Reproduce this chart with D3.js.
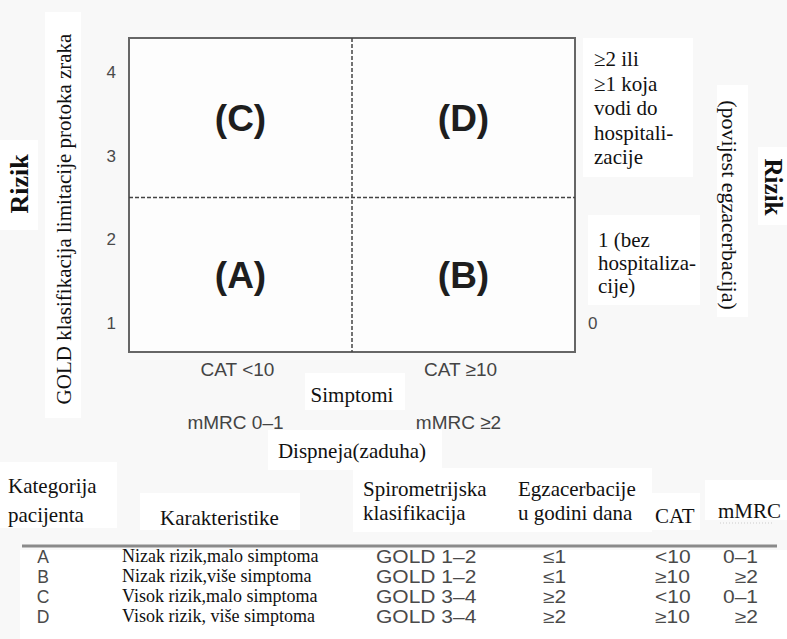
<!DOCTYPE html>
<html><head><meta charset="utf-8">
<script src="https://cdn.jsdelivr.net/npm/d3@7"></script>
<style>
html,body{margin:0;padding:0;background:#f8f8f8;}
svg{display:block;}
</style></head>
<body>
<svg id="c" width="787" height="639"></svg>
<script>
// ---------- data ----------
const riskTicks = [1, 2, 3, 4];
const riskSplit = 2.5;
const rightTickValues = [1];
const rightTickLabels = ["0"];
const symptomCats = ["low", "high"];
const catLabels = ["CAT <10", "CAT \u226510"];
const mmrcLabels = ["mMRC 0\u20131", "mMRC \u22652"];
const quadLabels = ["(A)", "(B)", "(C)", "(D)"];
const quadSym = ["low", "high", "low", "high"];
const quadRisk = ["low", "low", "high", "high"];
const highRiskText = ["\u22652 ili", "\u22651 koja", "vodi do", "hospitali-", "zacije"];
const lowRiskText = ["1 (bez", "hospitaliza-", "cije)"];
const leftAxisTitle = "GOLD klasifikacija limitacije protoka zraka";
const rightAxisTitle = "(povijest egzacerbacija)";
const riskTitle = "Rizik";
const symptomTitle = "Simptomi";
const dyspneaTitle = "Dispneja(zaduha)";

const tableCategories = ["A", "B", "C", "D"];
const tableCharacteristics = ["Nizak rizik,malo simptoma", "Nizak rizik,više simptoma", "Visok rizik,malo simptoma", "Visok rizik, više simptoma"];
const tableSpiro = ["GOLD 1\u20132", "GOLD 1\u20132", "GOLD 3\u20134", "GOLD 3\u20134"];
const tableExac = ["\u22641", "\u22641", "\u22652", "\u22652"];
const tableCAT = ["<10", "\u226510", "<10", "\u226510"];
const tableMMRC = ["0\u20131", "\u22652", "0\u20131", "\u22652"];

// ---------- drawing ----------
const svg = d3.select("#c");
const serif = "'Liberation Serif','Times New Roman',serif";
const sans = "'Liberation Sans',Arial,Helvetica,sans-serif";

// white paste patches
const patches = [
  [0,140,38,90],[45,12,36,406],
  [583,38,110,139],[588,215,112,90],[717,85,31,232],[758,147,29,78],
  [305,373,100,37],[268,430,174,40],
  [0,462,117,66],[140,493,160,37],[353,468,299,64],[645,493,55,37],[705,480,82,40],
  [20,550,767,89]
];
svg.selectAll("rect.patch").data(patches).join("rect").attr("class","patch")
  .attr("x",d=>d[0]).attr("y",d=>d[1]).attr("width",d=>d[2]).attr("height",d=>d[3])
  .attr("fill","#fff");

const x = d3.scaleBand().domain(symptomCats).range([129, 575]);
const y = d3.scaleLinear().domain([0.65, 4.41]).range([352, 38]);
const riskY = {low: [y(0.65), y(riskSplit)], high: [y(riskSplit), y(4.41)]};

const g = svg.append("g");
// plot box
g.append("rect").attr("x", x.range()[0]).attr("y", y(4.41))
  .attr("width", x.range()[1]-x.range()[0]).attr("height", y(0.65)-y(4.41))
  .attr("fill", "#fdfdfd").attr("stroke", "#666").attr("stroke-width", 2);
// dividers
g.append("line").attr("x1", x("high")).attr("x2", x("high"))
  .attr("y1", y(4.41)).attr("y2", y(0.65))
  .attr("stroke", "#444").attr("stroke-width", 1.5).attr("stroke-dasharray", "4,2");
g.append("line").attr("x1", x.range()[0]).attr("x2", x.range()[1])
  .attr("y1", y(riskSplit)).attr("y2", y(riskSplit))
  .attr("stroke", "#444").attr("stroke-width", 1.5).attr("stroke-dasharray", "4,2");

// left axis ticks
const ax = g.append("g").attr("transform", `translate(${x.range()[0]},0)`)
  .call(d3.axisLeft(y).tickValues(riskTicks).tickFormat(d3.format("d")).tickSize(0).tickPadding(13));
ax.select(".domain").remove();
ax.selectAll("text").attr("font-family", sans).attr("font-size", 17).attr("fill", "#4a4a4a");
// right axis tick
const axr = g.append("g").attr("transform", `translate(${x.range()[1]},0)`)
  .call(d3.axisRight(y).tickValues(rightTickValues).tickFormat((d,i)=>rightTickLabels[i]).tickSize(0).tickPadding(13));
axr.select(".domain").remove();
axr.selectAll("text").attr("font-family", sans).attr("font-size", 17).attr("fill", "#4a4a4a");

// quadrant labels
g.selectAll("text.q").data(quadLabels).join("text").attr("class","q")
  .attr("x", (d,i)=>x(quadSym[i]) + x.bandwidth()/2)
  .attr("y", (d,i)=>(riskY[quadRisk[i]][0]+riskY[quadRisk[i]][1])/2 + 13)
  .attr("text-anchor","middle").attr("font-family", sans).attr("font-weight","bold")
  .attr("font-size", 37).attr("fill", "#1e1e1e").text(d=>d);

// bottom labels
g.selectAll("text.cat").data(catLabels).join("text").attr("class","cat")
  .attr("x", (d,i)=>x(symptomCats[i]) + x.bandwidth()/2 - 3).attr("y", 376)
  .attr("text-anchor","middle").attr("font-family", sans).attr("font-size", 19).attr("fill","#444").text(d=>d);
g.selectAll("text.mm").data(mmrcLabels).join("text").attr("class","mm")
  .attr("x", (d,i)=>x(symptomCats[i]) + x.bandwidth()/2 - 5).attr("y", 429)
  .attr("text-anchor","middle").attr("font-family", sans).attr("font-size", 19).attr("fill","#444").text(d=>d);
g.append("text").attr("x", x("high")).attr("y", 402).attr("text-anchor","middle")
  .attr("font-family", serif).attr("font-size", 21).attr("fill","#111").text(symptomTitle);
g.append("text").attr("x", x("high")).attr("y", 458).attr("text-anchor","middle")
  .attr("font-family", serif).attr("font-size", 21).attr("fill","#111").text(dyspneaTitle);

// right side texts
g.selectAll("text.hr").data(highRiskText).join("text").attr("class","hr")
  .attr("x", 594).attr("y", (d,i)=>66 + i*24.5)
  .attr("font-family", serif).attr("font-size", 21).attr("fill","#111").text(d=>d);
g.selectAll("text.lr").data(lowRiskText).join("text").attr("class","lr")
  .attr("x", 598).attr("y", (d,i)=>247 + i*23)
  .attr("font-family", serif).attr("font-size", 21).attr("fill","#111").text(d=>d);

// vertical titles
g.append("text").attr("transform","translate(19,184) rotate(-90)")
  .attr("text-anchor","middle").attr("dominant-baseline","central")
  .attr("font-family", serif).attr("font-weight","bold").attr("font-size", 26).attr("fill","#111").text(riskTitle);
g.append("text").attr("transform","translate(64,219) rotate(-90)")
  .attr("text-anchor","middle").attr("dominant-baseline","central")
  .attr("font-family", serif).attr("font-size", 21).attr("fill","#111").text(leftAxisTitle);
g.append("text").attr("transform","translate(729,205) rotate(90)")
  .attr("text-anchor","middle").attr("dominant-baseline","central")
  .attr("font-family", serif).attr("font-size", 22).attr("fill","#111").text(rightAxisTitle);
g.append("text").attr("transform","translate(773,187) rotate(90)")
  .attr("text-anchor","middle").attr("dominant-baseline","central")
  .attr("font-family", serif).attr("font-weight","bold").attr("font-size", 25).attr("fill","#111").text(riskTitle);

// ---------- table ----------
const t = svg.append("g");
const hdr = [
  {x:8, y:493, s:"Kategorija"}, {x:8, y:522, s:"pacijenta"},
  {x:160, y:525, s:"Karakteristike"},
  {x:363, y:496, s:"Spirometrijska"}, {x:363, y:520, s:"klasifikacija"},
  {x:518, y:496, s:"Egzacerbacije"}, {x:518, y:520, s:"u godini dana"},
  {x:655, y:523, s:"CAT"}, {x:718, y:518, s:"mMRC"}
];
t.selectAll("text.h").data(hdr).join("text").attr("class","h")
  .attr("x", d=>d.x).attr("y", d=>d.y)
  .attr("font-family", serif).attr("font-size", 21).attr("fill","#111").text(d=>d.s);
t.append("line").attr("x1",720).attr("x2",772).attr("y1",523).attr("y2",523)
  .attr("stroke","#ccc").attr("stroke-width",1).attr("stroke-dasharray","1,2");
t.append("rect").attr("x",22).attr("y",544.5).attr("width",755).attr("height",3).attr("fill","#8a8a8a");

const row = d3.scaleBand().domain(tableCategories).range([546, 626]);
const rc = d => row(d) + row.bandwidth()/2;
t.selectAll("text.l").data(tableCategories).join("text").attr("class","l")
  .attr("x", 43).attr("y", d=>rc(d)+6.5).attr("text-anchor","middle")
  .attr("font-family", sans).attr("font-size", 17.5).attr("fill","#4a4a4a").text(d=>d);
t.selectAll("text.ch").data(tableCharacteristics).join("text").attr("class","ch")
  .attr("x", 122).attr("y", (d,i)=>rc(tableCategories[i])+6)
  .attr("font-family", serif).attr("font-size", 18).attr("fill","#111").text(d=>d);

function sansCol(cls, arr, xp, anchor) {
  t.selectAll("text."+cls).data(arr).join("text").attr("class", cls)
    .attr("transform", (d,i)=>`translate(${xp},${rc(tableCategories[i])+6.5}) scale(1.2,1)`)
    .attr("text-anchor", anchor)
    .attr("font-family", sans).attr("font-size", 17.5).attr("fill","#4a4a4a").text(d=>d);
}
sansCol("sp", tableSpiro, 376, "start");
sansCol("ex", tableExac, 543, "start");
sansCol("ca", tableCAT, 655, "start");
sansCol("mr", tableMMRC, 758, "end");
</script>
</body></html>
